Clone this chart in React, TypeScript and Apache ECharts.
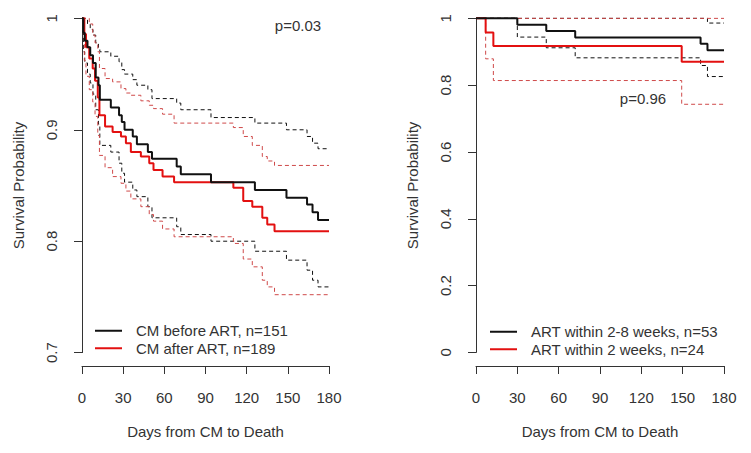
import React, { useEffect, useRef } from "react";
import * as echarts from "echarts";

// ---- Left panel: CM before ART vs CM after ART ----
const beforeTimes = [0, 1, 2, 4, 6, 8, 10, 12, 13, 21, 27, 29, 31, 37, 40, 48, 51, 69, 72, 94, 126, 149, 164, 168, 172, 180];
const beforeSurv = [1, 0.987, 0.98, 0.974, 0.967, 0.96, 0.947, 0.94, 0.927, 0.92, 0.913, 0.907, 0.9, 0.894, 0.887, 0.88, 0.874, 0.867, 0.86, 0.853, 0.846, 0.839, 0.833, 0.826, 0.819, 0.819];
const beforeUpper = [1, 1, 1, 0.995, 0.99, 0.985, 0.978, 0.974, 0.97, 0.966, 0.961, 0.954, 0.95, 0.945, 0.94, 0.936, 0.928, 0.924, 0.918, 0.911, 0.906, 0.9, 0.894, 0.888, 0.883, 0.883];
const beforeLower = [1, 0.97, 0.96, 0.95, 0.942, 0.932, 0.918, 0.905, 0.886, 0.88, 0.87, 0.861, 0.853, 0.846, 0.84, 0.831, 0.821, 0.813, 0.806, 0.8, 0.791, 0.783, 0.774, 0.765, 0.759, 0.759];

const afterTimes = [0, 1.7, 2.9, 5.3, 7.8, 9.5, 11.5, 12.7, 16.8, 22.3, 28.4, 32, 35.6, 42.9, 49, 52.1, 58.7, 67.1, 110.3, 117.5, 124.1, 131.4, 135, 140.3, 180];
const afterSurv = [1, 0.986, 0.974, 0.964, 0.955, 0.944, 0.929, 0.913, 0.903, 0.898, 0.894, 0.888, 0.88, 0.876, 0.87, 0.864, 0.858, 0.853, 0.848, 0.836, 0.831, 0.821, 0.815, 0.809, 0.809];
const afterUpper = [1, 1, 1, 0.995, 0.985, 0.978, 0.97, 0.955, 0.946, 0.943, 0.937, 0.933, 0.931, 0.926, 0.922, 0.919, 0.914, 0.906, 0.902, 0.894, 0.886, 0.876, 0.872, 0.868, 0.868];
const afterLower = [1, 0.962, 0.948, 0.936, 0.925, 0.912, 0.895, 0.877, 0.866, 0.858, 0.852, 0.845, 0.838, 0.831, 0.824, 0.818, 0.811, 0.804, 0.798, 0.784, 0.777, 0.765, 0.759, 0.752, 0.752];

// ---- Right panel: ART within 2-8 weeks vs within 2 weeks ----
const lateTimes = [0, 30, 51, 72, 163, 168, 180];
const lateSurv = [1, 0.981, 0.962, 0.943, 0.924, 0.905, 0.905];
const lateUpper = [1, 1, 1, 1, 1, 0.986, 0.986];
const lateLower = [1, 0.944, 0.912, 0.882, 0.859, 0.826, 0.826];

const earlyTimes = [0, 7, 12.6, 149.3, 180];
const earlySurv = [1, 0.958, 0.917, 0.87, 0.87];
const earlyUpper = [1, 1, 1, 1, 1];
const earlyLower = [1, 0.879, 0.814, 0.743, 0.743];

const xTicks = [0, 30, 60, 90, 120, 150, 180];
const leftNames = ["CM before ART, n=151", "CM after ART, n=189"];
const rightNames = ["ART within 2-8 weeks, n=53", "ART within 2 weeks, n=24"];
const pLeft = "p=0.03";
const pRight = "p=0.96";
const xTitle = "Days from CM to Death";
const yTitle = "Survival Probability";

const FONT = "'Liberation Sans', Arial, sans-serif";
const TXT = "#333";
const BLACK = "#111";
const RED = "#e31010";
const RED_DASH = "#cf4a4a";

const zip = (t: number[], v: number[]) => t.map((x, i) => [x, v[i]]);

function stepSeries(name: string, t: number[], v: number[], color: string, width: number, dashed: boolean, gridIdx: number, z: number) {
  return {
    name,
    type: "line",
    step: "end",
    data: zip(t, v),
    xAxisIndex: gridIdx,
    yAxisIndex: gridIdx,
    showSymbol: false,
    symbol: "none",
    silent: true,
    z,
    lineStyle: { color, width, type: dashed ? [4, 3] : "solid" },
    itemStyle: { color },
  };
}

export default function App() {
  const ref = useRef<HTMLDivElement>(null);
  useEffect(() => {
    if (!ref.current) return;
    const chart = echarts.init(ref.current, null, { renderer: "svg" });

    const xAxisBase = (gridIndex: number) => ({
      type: "value",
      gridIndex,
      min: 0,
      max: 180,
      interval: 30,
      name: xTitle,
      nameLocation: "middle",
      nameGap: 58,
      nameTextStyle: { fontFamily: FONT, fontSize: 15, color: TXT },
      axisLine: { show: true, onZero: false, lineStyle: { color: "#333", width: 1 } },
      axisTick: { show: true, inside: false, length: 8, lineStyle: { color: "#333" } },
      axisLabel: {
        show: true,
        margin: 24,
        fontFamily: FONT,
        fontSize: 15,
        color: TXT,
        formatter: (v: number) => (xTicks.includes(v) ? String(v) : ""),
      },
      splitLine: { show: false },
    });

    const hiddenX = (gridIndex: number) => ({ type: "value", gridIndex, min: 0, max: 180, show: false, axisLine: { onZero: false } });

    const yAxisShown = (gridIndex: number, min: number, max: number, interval: number) => ({
      type: "value",
      gridIndex,
      min,
      max,
      interval,
      name: yTitle,
      nameLocation: "middle",
      nameGap: 56,
      nameTextStyle: { fontFamily: FONT, fontSize: 15, color: TXT },
      axisLine: { show: true, onZero: false, lineStyle: { color: "#333", width: 1 } },
      axisTick: { show: true, inside: false, length: 8, lineStyle: { color: "#333" } },
      axisLabel: {
        margin: 23,
        rotate: 90,
        fontFamily: FONT,
        fontSize: 15,
        color: TXT,
        formatter: (v: number) => (Math.abs(v - 1) < 1e-9 ? "1" : Math.abs(v) < 1e-9 ? "0" : v.toFixed(1)),
      },
      splitLine: { show: false },
    });

    const hiddenY = (gridIndex: number, min: number, max: number) => ({ type: "value", gridIndex, min, max, show: false, axisLine: { onZero: false } });

    const legendBase = (names: string[], left: number, top: number) => ({
      data: names,
      orient: "vertical",
      left,
      top,
      itemWidth: 27,
      itemHeight: 2,
      itemGap: 0,
      icon: "rect",
      selectedMode: false,
      padding: 0,
      textStyle: { fontFamily: FONT, fontSize: 15, color: TXT, lineHeight: 17.5, padding: [0, 0, 0, 9] },
    });

    chart.setOption({
      animation: false,
      backgroundColor: "#fff",
      grid: [
        { left: 82, top: 5, width: 247, height: 361 },
        { left: 82, top: 18.4, width: 247, height: 334.2 },
        { left: 476, top: 5, width: 248, height: 361 },
        { left: 476, top: 18.4, width: 248, height: 334 },
      ],
      xAxis: [xAxisBase(0), hiddenX(1), xAxisBase(2), hiddenX(3)],
      yAxis: [
        hiddenY(0, 0.688, 1.012),
        yAxisShown(1, 0.7, 1, 0.1),
        hiddenY(2, -0.04, 1.04),
        yAxisShown(3, 0, 1, 0.2),
      ],
      legend: [legendBase(leftNames, 95, 322), legendBase(rightNames, 490, 323)],
      graphic: [
        { type: "text", x: 298, y: 25, style: { text: pLeft, font: `15px ${FONT}`, fill: TXT, align: "center", verticalAlign: "middle" } },
        { type: "text", x: 643, y: 98, style: { text: pRight, font: `15px ${FONT}`, fill: TXT, align: "center", verticalAlign: "middle" } },
      ],
      series: [
        stepSeries("before-upper", beforeTimes, beforeUpper, BLACK, 1, true, 0, 2),
        stepSeries("before-lower", beforeTimes, beforeLower, BLACK, 1, true, 0, 2),
        stepSeries("after-upper", afterTimes, afterUpper, RED_DASH, 1, true, 0, 2),
        stepSeries("after-lower", afterTimes, afterLower, RED_DASH, 1, true, 0, 2),
        stepSeries(leftNames[0], beforeTimes, beforeSurv, BLACK, 2, false, 0, 4),
        stepSeries(leftNames[1], afterTimes, afterSurv, RED, 2, false, 0, 3),
        stepSeries("late-upper", lateTimes, lateUpper, BLACK, 1, true, 2, 2),
        stepSeries("late-lower", lateTimes, lateLower, BLACK, 1, true, 2, 2),
        stepSeries("early-upper", earlyTimes, earlyUpper, RED_DASH, 1, true, 2, 2),
        stepSeries("early-lower", earlyTimes, earlyLower, RED_DASH, 1, true, 2, 2),
        stepSeries(rightNames[0], lateTimes, lateSurv, BLACK, 2, false, 2, 4),
        stepSeries(rightNames[1], earlyTimes, earlySurv, RED, 2, false, 2, 3),
      ],
    });
    return () => chart.dispose();
  }, []);
  return <div ref={ref} style={{ position: "fixed", left: 0, top: 0, width: 751, height: 453 }} />;
}
